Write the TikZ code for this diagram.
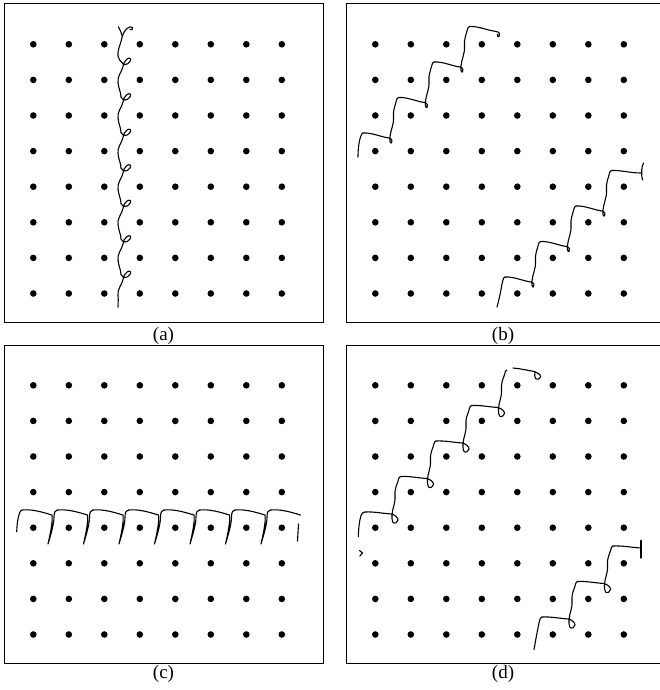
\documentclass[tikz,border=0pt]{standalone}
\usepackage{fontspec}
\setmainfont{Liberation Serif}
\begin{document}
\begin{tikzpicture}[x=1pt,y=-1pt,
  trace/.style={line width=1.1pt, line cap=round, line join=round},
  framest/.style={line width=0.9pt},
  lbl/.style={font=\fontsize{19}{22}\selectfont, inner sep=0pt},
  aper/.pic={\draw[trace] (-1,-3) .. controls (1,1) and (5,1) .. (8,-3) .. controls (10,-5.5) and (7.5,-7.5) .. (5,-5.5) .. controls (3,-4) and (1,-1) .. (1,2) .. controls (0,7) and (-5,12) .. (-4,18) .. controls (-3.5,24) and (-1,28) .. (-1,32.5);},
  alast/.pic={\draw[trace] (-1,-3) .. controls (1,1) and (5,1) .. (8,-3) .. controls (10,-5.5) and (7.5,-7.5) .. (5,-5.5) .. controls (3,-4) and (1,-1) .. (1,2) .. controls (0,7) and (-5,12) .. (-4,18) .. controls (-3.5,23) and (-4,27) .. (-4,29.5);},
  bstep/.pic={\draw[trace] (0,0) .. controls (9,-0.5) and (18,4) .. (26,5) .. controls (29,5.5) and (30,9) .. (28.5,10) .. controls (27,10.5) and (26.5,7) .. (27,4) .. controls (27.5,-3) and (31,-8) .. (30.5,-16) .. controls (30,-23) and (32,-27) .. (33,-31) .. controls (33.5,-34) and (34.5,-35.5) .. (35.5,-35.5);},
  bendb/.pic={\draw[trace] (0,0) .. controls (9,-0.5) and (18,4) .. (27,5) .. controls (30,5.5) and (31,8.5) .. (29.5,10) .. controls (28.5,11) and (27.5,9.5) .. (28,8);},
  bendbar/.pic={\draw[trace] (0,0) .. controls (9,-0.5) and (19,2.5) .. (29,2.5);
                \draw[trace] (32,-7.5) .. controls (30,-4) and (29.5,4) .. (31,9.5);},
  unitc/.pic={\draw[trace] (0,0) .. controls (10,-1) and (20,2) .. (30,5) .. controls (31,12) and (28,25) .. (26,34) .. controls (28,27) and (32,15) .. (32,7) .. controls (32,2) and (33.5,0) .. (35.5,0);},
  stepd/.pic={\draw[trace] (0,0) .. controls (9,-0.5) and (18,1.5) .. (26.5,2) .. controls (30,3) and (33,5.5) .. (33,8) .. controls (33,10.5) and (29.5,12) .. (28,10.5) .. controls (27,9) and (26.8,6) .. (27,3) .. controls (27.3,-4) and (30.5,-8) .. (30,-16) .. controls (29.5,-24) and (32,-27) .. (33,-31) .. controls (33.5,-34) and (34.5,-35.5) .. (35.5,-35.5);}
  ]
\useasboundingbox (0,0) rectangle (659,690);

% frames
\draw[framest] (4,3) rectangle (323.5,322);
\draw[framest] (659.5,3) -- (346,3) -- (346,322) -- (659.5,322);
\draw[framest] (4,345) rectangle (323.5,663);
\draw[framest] (659.5,345) -- (346,345) -- (346,663) -- (659.5,663);

% labels
\node[lbl] (la) at (163.5,336) {(a)};
\node[lbl] (lb) at (503,336) {(b)};
\node[lbl] (lc) at (163.5,674) {(c)};
\node[lbl] (ld) at (503,674) {(d)};

% dot grids
\foreach \i in {0,...,7}{
  \foreach \j in {0,...,7}{
    \fill (33.3+35.5*\i, 44.3+35.6*\j) circle[radius=3.3pt];
    \fill (375.3+35.5*\i, 44.3+35.6*\j) circle[radius=3.3pt];
    \fill (33.3+35.5*\i, 385.3+35.6*\j) circle[radius=3.3pt];
    \fill (375.3+35.5*\i, 385.3+35.6*\j) circle[radius=3.3pt];
  }
}

% (a) vertical chain
\draw[trace] (118.3,26.7) .. controls (120,30) and (121.5,33) .. (122.3,36);
\draw[trace] (122.3,36) .. controls (123.5,33) and (125,30) .. (127,28.5) .. controls (129,27) and (131,26) .. (132.5,27.5) .. controls (133.5,29) and (131.5,30.5) .. (130,29.5);
\draw[trace] (122.3,36) .. controls (121,44) and (117,50) .. (118,56) .. controls (118.5,59) and (120,60.5) .. (121,61.5);
\foreach \k in {0,...,5}{\pic at (122,64.5+35.5*\k) {aper};}
\pic at (122,277.5) {alast};

% (b) staircases
\draw[trace] (358,157) .. controls (358,149) and (359,141) .. (360.5,137) .. controls (361.5,134.5) and (362,133) .. (363,133);
\foreach \k in {0,1,2}{\pic at (363+35.5*\k,133-35.5*\k) {bstep};}
\pic at (469.5,26.5) {bendb};
\draw[trace] (497,307) .. controls (499,300) and (501,290) .. (502,284) .. controls (503,280) and (503.5,277) .. (505,277);
\foreach \k in {0,1,2}{\pic at (505+35.5*\k,277-35.5*\k) {bstep};}
\pic at (611.5,170.5) {bendbar};

% (c) horizontal chain
\draw[trace] (16.7,531.7) .. controls (17,524) and (18,516) .. (20,512) .. controls (21,510.5) and (21.5,510) .. (22,510);
\foreach \k in {0,...,6}{\pic at (22+35.5*\k,510) {unitc};}
\draw[trace] (270.5,510) .. controls (280.5,509) and (290.5,512) .. (300.5,515);
\draw[trace] (298.5,524) -- (297.5,541);

% (d) staircases
\draw[trace] (358.3,536.7) .. controls (358.5,529) and (359.5,520) .. (361,515.5) .. controls (362,513) and (363,512) .. (365,512);
\foreach \k in {0,...,3}{\pic at (365+35.5*\k,512-35.5*\k) {stepd};}
\draw[trace] (513,368) .. controls (520,368.5) and (528,370.5) .. (534.5,371.5) .. controls (537.5,372.5) and (540.5,374.5) .. (540.5,376.5) .. controls (540.5,379) and (536.5,380) .. (535.5,378.5) .. controls (534.5,377) and (534.5,374) .. (535,372);
\draw[trace] (359.5,550.5) -- (362.5,553) -- (359.8,556);
\draw[trace] (534,649.5) .. controls (535.5,641) and (537.5,630) .. (539,623) .. controls (540,619) and (540.5,617) .. (542,617);
\foreach \k in {0,1}{\pic at (542+35.5*\k,617-35.5*\k) {stepd};}
\draw[trace] (613,546) .. controls (622,545.5) and (632,547.5) .. (641,548);
\draw[trace] (641,540.5) -- (641,558);
\end{tikzpicture}
\end{document}
